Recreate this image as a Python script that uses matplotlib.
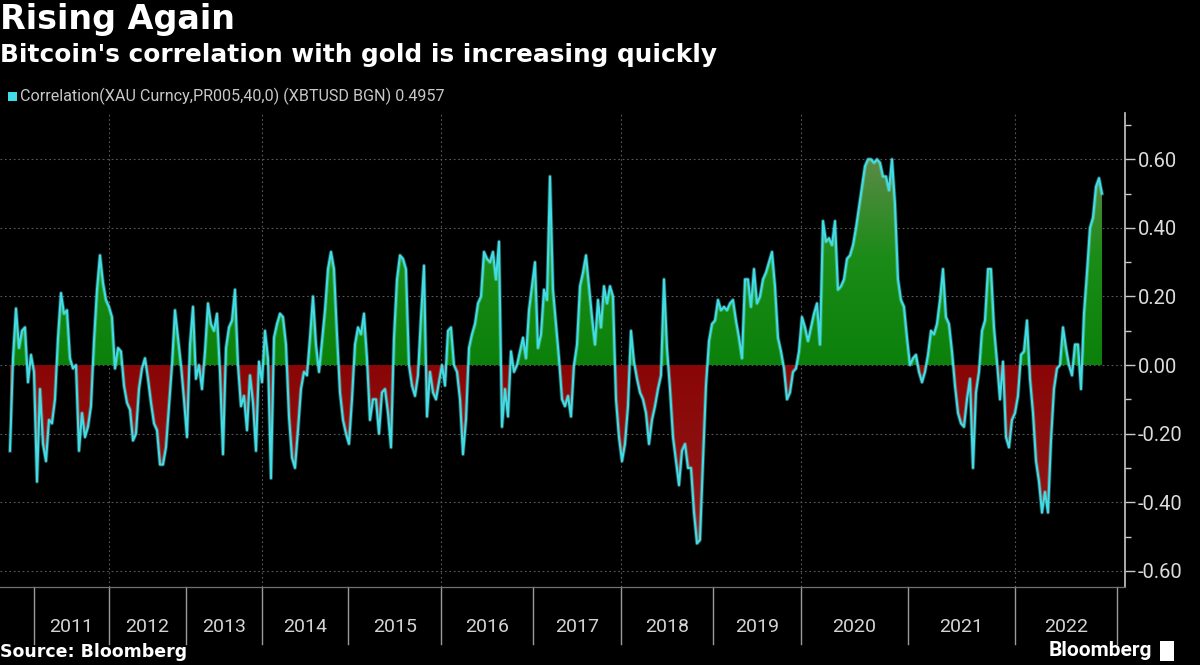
import numpy as np
import matplotlib
matplotlib.use("Agg")
import matplotlib.pyplot as plt
from matplotlib.patches import Rectangle
from matplotlib.path import Path
from matplotlib.colors import LinearSegmentedColormap

corr = [
    -0.25, 0.02, 0.165, 0.05, 0.10, 0.11, -0.05, 0.03, -0.02, -0.34,
    -0.07, -0.23, -0.28, -0.16, -0.17, -0.10, 0.08, 0.21, 0.15, 0.16,
    0.02, -0.01, 0.0, -0.25, -0.14, -0.21, -0.18, -0.12, 0.07, 0.22,
    0.32, 0.24, 0.19, 0.17, 0.14, -0.01, 0.05, 0.04, -0.06, -0.11,
    -0.13, -0.22, -0.20, -0.07, -0.01, 0.02, -0.04, -0.11, -0.17, -0.19,
    -0.29, -0.29, -0.24, -0.12, 0.0, 0.16, 0.08, 0.0, -0.10, -0.21,
    0.06, 0.17, -0.04, 0.0, -0.07, 0.04, 0.18, 0.12, 0.10, 0.15,
    -0.02, -0.26, 0.05, 0.11, 0.13, 0.22, 0.0, -0.12, -0.09, -0.19,
    -0.03, -0.11, -0.25, 0.01, -0.05, 0.10, 0.02, -0.33, 0.08, 0.12,
    0.15, 0.14, 0.06, -0.15, -0.27, -0.30, -0.19, -0.07, -0.02, -0.03,
    0.08, 0.20, 0.06, -0.02, 0.07, 0.16, 0.28, 0.33, 0.28, 0.09,
    -0.08, -0.16, -0.20, -0.23, -0.10, 0.06, 0.11, 0.09, 0.15, 0.02,
    -0.16, -0.10, -0.10, -0.20, -0.08, -0.07, -0.14, -0.24, 0.08, 0.25,
    0.32, 0.31, 0.28, 0.0, -0.06, -0.09, -0.03, 0.14, 0.29, -0.15,
    -0.02, -0.08, -0.10, -0.05, 0.0, -0.06, 0.10, 0.11, 0.0, -0.02,
    -0.10, -0.26, -0.16, 0.05, 0.09, 0.12, 0.18, 0.20, 0.33, 0.31,
    0.30, 0.33, 0.25, 0.36, -0.18, -0.07, -0.15, 0.04, -0.02, 0.0,
    0.04, 0.08, 0.02, 0.16, 0.23, 0.30, 0.05, 0.09, 0.22, 0.19,
    0.55, 0.22, 0.12, 0.02, -0.10, -0.12, -0.09, -0.15, 0.0, 0.06,
    0.23, 0.27, 0.32, 0.23, 0.14, 0.06, 0.19, 0.11, 0.23, 0.18,
    0.23, 0.20, -0.10, -0.21, -0.28, -0.23, -0.12, 0.10, 0.01, -0.04,
    -0.08, -0.10, -0.14, -0.23, -0.16, -0.12, -0.07, -0.03, 0.25, 0.05,
    -0.07, -0.21, -0.28, -0.35, -0.25, -0.23, -0.30, -0.30, -0.43, -0.52,
    -0.51, -0.28, -0.06, 0.07, 0.12, 0.13, 0.19, 0.16, 0.17, 0.16,
    0.18, 0.19, 0.13, 0.08, 0.02, 0.25, 0.25, 0.17, 0.28, 0.18,
    0.20, 0.25, 0.27, 0.30, 0.33, 0.23, 0.08, 0.04, -0.01, -0.10,
    -0.08, -0.02, -0.01, 0.04, 0.14, 0.11, 0.07, 0.11, 0.15, 0.18,
    0.06, 0.42, 0.36, 0.37, 0.35, 0.42, 0.22, 0.23, 0.25, 0.31,
    0.32, 0.35, 0.40, 0.46, 0.52, 0.58, 0.60, 0.60, 0.59, 0.60,
    0.59, 0.55, 0.55, 0.51, 0.60, 0.47, 0.25, 0.19, 0.17, 0.08,
    0.0, 0.02, 0.03, -0.02, -0.05, -0.02, 0.03, 0.10, 0.09, 0.12,
    0.19, 0.28, 0.14, 0.12, 0.04, -0.06, -0.14, -0.17, -0.18, -0.10,
    -0.04, -0.30, -0.08, -0.02, 0.10, 0.13, 0.28, 0.28, 0.11, 0.01,
    -0.10, 0.01, -0.21, -0.24, -0.16, -0.14, -0.09, 0.03, 0.04, 0.13,
    -0.04, -0.14, -0.28, -0.34, -0.43, -0.37, -0.43, -0.22, -0.07, -0.01,
    0.0, 0.11, 0.05, 0.0, -0.03, 0.06, 0.06, -0.07, 0.15, 0.27,
    0.40, 0.43, 0.52, 0.545, 0.50,
]
years = [2011, 2012, 2013, 2014, 2015, 2016, 2017, 2018, 2019, 2020, 2021, 2022]
# observation index at which each year starts (last entry = end of 2022 section)
year_start_obs = [8, 33, 58.7, 84, 112.7, 143.7, 174.3, 203.7, 234.3, 263.7, 299.3, 335, 369]
y_ticks = [-0.6, -0.4, -0.2, 0.0, 0.2, 0.4, 0.6]
legend_label = "Correlation(XAU Curncy,PR005,40,0) (XBTUSD BGN) 0.4957"

plt.rcParams['font.family'] = ['Roboto', 'DejaVu Sans']

# ---------------- figure ----------------
fig = plt.figure(figsize=(12, 6.65), dpi=100, facecolor="black")
ax = fig.add_axes([0.0, 1 - 587 / 665, 1125 / 1200, (587 - 113) / 665])
ax.set_facecolor("black")

x = np.arange(len(corr))
y = np.array(corr)

# grid
for v in y_ticks:
    ax.axhline(v, color="#5a5a5a", lw=0.8, ls=(0, (1.5, 2.5)), zorder=0)
for xs in year_start_obs[1:-1:2]:
    ax.axvline(xs, color="#5a5a5a", lw=0.8, ls=(0, (1.5, 2.5)), zorder=0)

# fills with vertical gradient
pos = ax.fill_between(x, 0, y, where=y >= 0, interpolate=True, color="none", lw=0)
neg = ax.fill_between(x, 0, y, where=y <= 0, interpolate=True, color="none", lw=0)


def compound(coll):
    verts, codes = [], []
    for p in coll.get_paths():
        verts.append(p.vertices)
        c = p.codes if p.codes is not None else np.full(len(p.vertices), Path.LINETO)
        c = c.copy()
        c[0] = Path.MOVETO
        codes.append(c)
    return Path(np.concatenate(verts), np.concatenate(codes))


gcm = LinearSegmentedColormap.from_list("g", ["#0b800b", "#1a8c17", "#5f8a4a"])
rcm = LinearSegmentedColormap.from_list("r", ["#8a0606", "#8c1010", "#8e2020"])
grad = np.linspace(0, 1, 256).reshape(-1, 1)
im1 = ax.imshow(grad, extent=[x[0], x[-1], 0, 0.62], origin="lower", cmap=gcm,
                aspect="auto", zorder=1)
im1.set_clip_path(compound(pos), transform=ax.transData)
im2 = ax.imshow(grad[::-1], extent=[x[0], x[-1], -0.55, 0], origin="lower", cmap=rcm,
                aspect="auto", zorder=1)
im2.set_clip_path(compound(neg), transform=ax.transData)
ax.set_xlim(-3.33, 371.67)
ax.set_ylim(-0.647, 0.735)

# line
ax.plot(x, y, color="#7ff3f5", lw=2.8, alpha=0.3, zorder=3)
ax.plot(x, y, color="#40dde6", lw=1.5, zorder=4)

# axes styling
for s in ["left", "top"]:
    ax.spines[s].set_visible(False)
ax.spines["right"].set_color("#c8c8c8")
ax.spines["right"].set_linewidth(1.2)
ax.spines["bottom"].set_color("#707070")
ax.spines["bottom"].set_linewidth(0.9)
ax.yaxis.tick_right()
ax.set_yticks(y_ticks)
ax.set_yticklabels([f"{v:.2f}" for v in y_ticks])
ax.set_yticks(np.arange(-0.6, 0.71, 0.1), minor=True)
ax.tick_params(axis="y", which="major", colors="#c8c8c8", labelcolor="#dcdcdc",
               length=7, width=1.0, labelsize=14.5, pad=2)
ax.tick_params(axis="y", which="minor", colors="#c8c8c8", length=4, width=1.0)
ax.set_xticks([])

# year separators and labels
xt = ax.get_xaxis_transform()
for xs in year_start_obs:
    ax.plot([xs, xs], [0, -0.12], transform=xt, color="#9a9a9a", lw=1.0, clip_on=False)
for i, yr in enumerate(years):
    mid = 0.5 * (year_start_obs[i] + year_start_obs[i + 1])
    ax.text(mid, -0.085, str(yr), transform=xt, ha="center", va="center",
            color="#d4d4d4", fontsize=14)

# titles
fig.text(0.0, 1 - 20 / 665, "Rising Again", color="white", fontsize=24,
         fontweight="bold", family="DejaVu Sans", va="center", ha="left")
fig.text(0.0, 1 - 55 / 665, "Bitcoin's correlation with gold is increasing quickly",
         color="white", fontsize=17.8, fontweight="bold", family="DejaVu Sans",
         va="center", ha="left")
fig.patches.append(Rectangle((8 / 1200, 1 - 101 / 665), 9 / 1200, 9 / 665,
                             transform=fig.transFigure, facecolor="#3fdce6",
                             edgecolor="none"))
fig.text(20 / 1200, 1 - 96 / 665, legend_label, color="#c8c8c8", fontsize=11.6,
         va="center", ha="left")

# footer
fig.text(0.0, 1 - 652 / 665, "Source: Bloomberg", color="white", fontsize=12.5,
         fontweight="bold", family="DejaVu Sans", va="center", ha="left")
fig.text(1152 / 1200, 1 - 650 / 665, "Bloomberg", color="white", fontsize=15,
         fontweight="bold", va="center", ha="right")
fig.patches.append(Rectangle((1160 / 1200, 1 - 661 / 665), 14 / 1200, 20 / 665,
                             transform=fig.transFigure, facecolor="white",
                             edgecolor="none"))

fig.savefig("out.png", dpi=100, facecolor="black")
